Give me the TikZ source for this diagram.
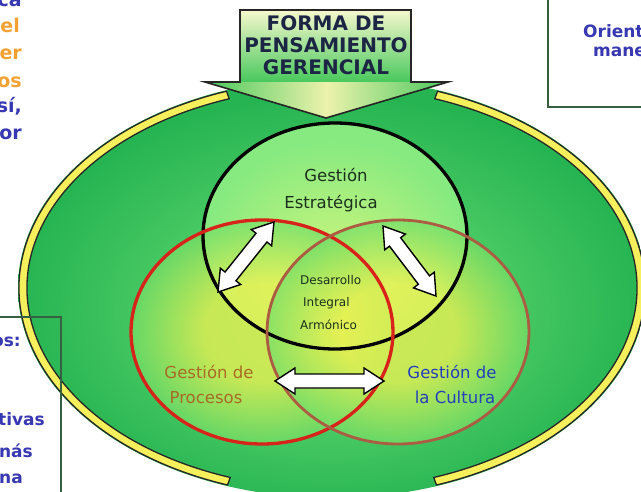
\documentclass[tikz,border=0pt]{standalone}
\usepackage{fontspec}
\setmainfont{DejaVu Sans}
\usetikzlibrary{calc}
\definecolor{gOut}{RGB}{38,180,82}
\definecolor{gMid}{RGB}{100,218,112}
\definecolor{bIn}{RGB}{210,246,125}
\definecolor{bOut}{RGB}{135,234,128}
\definecolor{yIn}{RGB}{240,242,80}
\definecolor{yOut}{RGB}{115,222,105}
\definecolor{bandY}{RGB}{246,240,92}
\definecolor{redC}{RGB}{215,35,25}
\definecolor{brownC}{RGB}{172,92,66}
\definecolor{darkT}{RGB}{28,48,30}
\definecolor{procT}{RGB}{168,106,36}
\definecolor{cultT}{RGB}{35,62,190}
\definecolor{sideB}{RGB}{56,56,178}
\definecolor{sideO}{RGB}{242,162,50}
\definecolor{boxL}{RGB}{55,95,65}
\definecolor{titleT}{RGB}{28,38,68}
\definecolor{rectTop}{RGB}{246,248,205}
\definecolor{rectBot}{RGB}{72,200,92}
\definecolor{headMid}{RGB}{236,242,172}
\pgfdeclareradialshading{bigglow}{\pgfpoint{0bp}{-4bp}}{color(0bp)=(gMid); color(13bp)=(gMid!60!gOut); color(25bp)=(gOut); color(50bp)=(gOut)}
\pgfdeclareradialshading{blackglow}{\pgfpoint{0bp}{-8bp}}{color(0bp)=(bIn); color(25bp)=(bOut); color(50bp)=(bOut)}
\pgfdeclareradialshading{yglow}{\pgfpointorigin}{color(0bp)=(yIn); color(11bp)=(yIn); color(25bp)=(yOut); color(50bp)=(yOut)}
\newcommand\dblarrow[2]{%
  \draw[dblarr] let \p1=(#1), \p2=(#2), \n1={atan2(\y2-\y1,\x2-\x1)} in
    (\p1) -- ($(\p1)+(\n1:20pt)+(\n1+90:13pt)$) -- ($(\p1)+(\n1:20pt)+(\n1+90:7pt)$)
    -- ($(\p2)+(\n1:-20pt)+(\n1+90:7pt)$) -- ($(\p2)+(\n1:-20pt)+(\n1+90:13pt)$)
    -- (\p2) -- ($(\p2)+(\n1:-20pt)+(\n1-90:13pt)$) -- ($(\p2)+(\n1:-20pt)+(\n1-90:7pt)$)
    -- ($(\p1)+(\n1:20pt)+(\n1-90:7pt)$) -- ($(\p1)+(\n1:20pt)+(\n1-90:13pt)$) -- cycle;}
\begin{document}
\begin{tikzpicture}[x=1pt,y=1pt,
  band/.style={fill=bandY,draw=black!85,line width=1.3pt,line join=miter},
  ring/.style={line width=3.3pt},
  dblarr/.style={fill=white,draw=black,line width=1.4pt,line join=miter},
  mainlbl/.style={inner sep=0pt,anchor=base,font=\fontsize{16.5}{18}\selectfont},
  smalllbl/.style={inner sep=0pt,anchor=base west,text=darkT,font=\fontsize{12}{14}\selectfont},
  titlelbl/.style={inner sep=0pt,anchor=base,text=titleT,font=\fontsize{20}{22}\selectfont\bfseries},
  sidelbl/.style={inner sep=0pt,anchor=base east,font=\fontsize{19}{21}\selectfont\bfseries},
  sidelblB/.style={inner sep=0pt,anchor=base east,text=sideB,font=\fontsize{17}{19}\selectfont\bfseries},
  sidelblR/.style={inner sep=0pt,anchor=base west,text=sideB,font=\fontsize{17}{19}\selectfont\bfseries},
  boxline/.style={draw=boxL,line width=1.3pt}]
\useasboundingbox (0,0) rectangle (641,491);
\clip (0,0) rectangle (641,491);
\fill[white] (0,0) rectangle (641,491);

% big oval
\coordinate (E) at (332,203);
\shade[shading=bigglow] (E) ellipse [x radius=314, y radius=210];

% circle fills
\coordinate (CB) at (335,255);
\coordinate (CR) at (262,159);
\coordinate (CC) at (398,159);
\shade[shading=blackglow] (CB) ellipse [x radius=132, y radius=113];
\shade[shading=yglow, fill opacity=0.75] (CR) ellipse [x radius=131, y radius=112];
\shade[shading=yglow, fill opacity=0.75] (CC) ellipse [x radius=131, y radius=112];

% yellow ring segments
\begin{scope}[shift={(E)}]
  \filldraw[band] (109.7:313 and 209) arc[start angle=109.7, end angle=250.5, x radius=313, y radius=209]
    -- (250.5:305 and 201) arc[start angle=250.5, end angle=109.7, x radius=305, y radius=201] -- cycle;
  \filldraw[band] (-70.5:313 and 209) arc[start angle=-70.5, end angle=70.3, x radius=313, y radius=209]
    -- (70.3:305 and 201) arc[start angle=70.3, end angle=-70.5, x radius=305, y radius=201] -- cycle;
\end{scope}

% top arrow
\shade[left color=rectBot, right color=rectBot, middle color=headMid] (205,409) -- (448,409) -- (326,373) -- cycle;
\shade[top color=rectTop, bottom color=rectBot] (240,481) rectangle (411,409);
\draw[black!85,line width=1.6pt,line join=miter] (240,481) -- (411,481) -- (411,409) -- (448,409) -- (326,373) -- (205,409) -- (240,409) -- cycle;
\node[titlelbl] (t1) at (326,460) {FORMA DE};
\node[titlelbl] (t2) at (326,438) {PENSAMIENTO};
\node[titlelbl] (t3) at (326,416) {GERENCIAL};

% circle outlines
\draw[ring, draw=black] (CB) ellipse [x radius=132, y radius=113];
\draw[ring, draw=redC] (CR) ellipse [x radius=131, y radius=112];
\draw[ring, draw=brownC, line width=2.8pt] (CC) ellipse [x radius=131, y radius=112];

% labels
\node[mainlbl, text=darkT] (ge1) at (336,309) {Gestión};
\node[mainlbl, text=darkT] (ge2) at (331,282) {Estratégica};
\node[smalllbl] (d1) at (300,206) {Desarrollo};
\node[smalllbl] (d2) at (303,184) {Integral};
\node[smalllbl] (d3) at (300,161) {Armónico};
\node[mainlbl, text=procT] (gp1) at (209,113) {Gestión de};
\node[mainlbl, text=procT] (gp2) at (206,88) {Procesos};
\node[mainlbl, text=cultT] (gc1) at (452,113) {Gestión de};
\node[mainlbl, text=cultT] (gc2) at (455,88) {la Cultura};

% double arrows
\coordinate (la1) at (274,269);
\coordinate (la2) at (218,199);
\coordinate (ra1) at (383,265);
\coordinate (ra2) at (436,195);
\coordinate (ha1) at (275,110);
\coordinate (ha2) at (384,110);
\dblarrow{la1}{la2}
\dblarrow{ra1}{ra2}
\dblarrow{ha1}{ha2}

% side boxes
\draw[boxline] (548,500) -- (548,384) -- (660,384);
\draw[boxline] (-10,174) -- (61,174) -- (61,-10);

% top-left partial text
\node[sidelbl, text=sideB] (s1) at (22,484) {ca};
\node[sidelbl, text=sideO] (s2) at (20,458) {el};
\node[sidelbl, text=sideO] (s3) at (22,431) {er};
\node[sidelbl, text=sideO] (s4) at (22,403) {os};
\node[sidelbl, text=sideB] (s5) at (22,378) {sí,};
\node[sidelbl, text=sideB] (s6) at (22,351) {or};

% bottom-left partial text
\node[sidelblB] (b1) at (21,144) {os:};
\node[sidelblB] (b2) at (45,66) {tivas};
\node[sidelblB] (b3) at (33,34) {nás};
\node[sidelblB] (b4) at (23,8) {na};

% top-right partial text
\node[sidelblR] (r1) at (583,453) {Orient};
\node[sidelblR] (r2) at (593,434) {mane};
\end{tikzpicture}
\end{document}
